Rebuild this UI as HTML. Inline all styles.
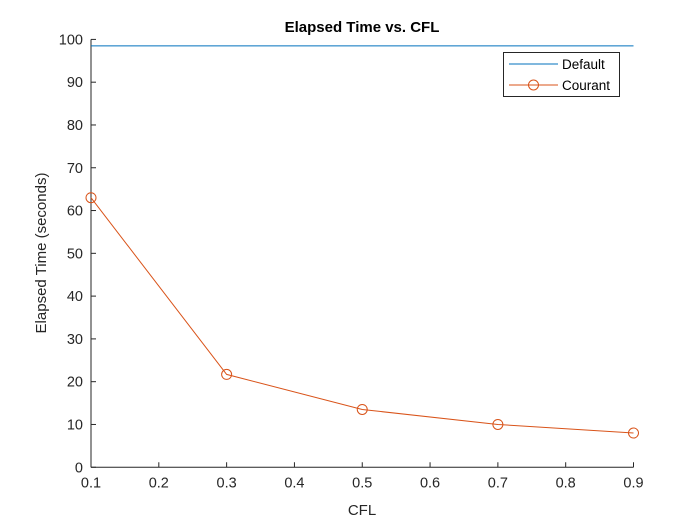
<!DOCTYPE html>
<html><head><meta charset="utf-8"><style>
html,body{margin:0;padding:0;background:#fff;}
svg{display:block;font-family:"Liberation Sans",Arial,sans-serif;}
</style></head><body>
<svg id="chart" width="700" height="525" viewBox="0 0 700 525">
<rect width="700" height="525" fill="#fff"/>
<g id="grid"></g>
<text x="362" y="32" text-anchor="middle" font-size="15" font-weight="bold" fill="#000">Elapsed Time vs. CFL</text>
<text x="362" y="515" text-anchor="middle" font-size="15" fill="#262626">CFL</text>
<text transform="translate(46,253) rotate(-90)" text-anchor="middle" font-size="15" fill="#262626">Elapsed Time (seconds)</text>
<g id="axes"></g>
<g id="marks"></g>
<g>
<rect x="503.5" y="52.5" width="116" height="44" fill="#fff" stroke="#262626" stroke-width="1"/>
<line x1="509" y1="64" x2="558" y2="64" stroke="#0072BD" stroke-width="1"/>
<text x="562" y="69" font-size="13.5" fill="#000">Default</text>
<line x1="509" y1="85" x2="558" y2="85" stroke="#D95319" stroke-width="1"/>
<circle cx="533.5" cy="85" r="5" fill="none" stroke="#D95319"/>
<text x="562" y="90" font-size="13.5" fill="#000">Courant</text>
</g>
</svg>
<script>
const xTicks=[0.1,0.2,0.3,0.4,0.5,0.6,0.7,0.8,0.9];
const yTicks=[0,10,20,30,40,50,60,70,80,90,100];
const cfl=[0.1,0.3,0.5,0.7,0.9];
const courant=[63.0,21.7,13.5,10.0,8.0];
const defaultTime=[98.5,98.5];
const defaultX=[0.1,0.9];

const L=91,R=633.5,T=39.4,B=467.25;
const NS='http://www.w3.org/2000/svg';
function sx(v){return L+(v-0.1)/(0.9-0.1)*(R-L);}
function sy(v){return B-(v-0)/(100-0)*(B-T);}
function mk(tag,attrs,parent){const e=document.createElementNS(NS,tag);for(const k in attrs)e.setAttribute(k,attrs[k]);parent.appendChild(e);return e;}
const axes=document.getElementById('axes'),marks=document.getElementById('marks');
let e=mk('line',{x1:L,y1:B,x2:R,y2:B,stroke:'#262626','stroke-width':1},axes);


e=mk('line',{x1:L,y1:T,x2:L,y2:B,stroke:'#262626','stroke-width':1},axes);


xTicks.forEach(v=>{
  const x=sx(v);
  let t=mk('line',{x1:x,y1:B,x2:x,y2:B-5,stroke:'#262626'},axes);
  
  
  let l=mk('text',{x:x,y:B+20,'text-anchor':'middle','font-size':14.5,fill:'#262626'},axes);
  l.textContent=v.toFixed(1);
  
  
});
yTicks.forEach(v=>{
  const y=sy(v);
  let t=mk('line',{x1:L,y1:y,x2:L+5,y2:y,stroke:'#262626'},axes);
  
  
  let l=mk('text',{x:L-8,y:y+5,'text-anchor':'end','font-size':14.5,fill:'#262626'},axes);
  l.textContent=v;
  
  
});
e=mk('polyline',{points:defaultX.map((x,i)=>sx(x)+','+sy(defaultTime[i])).join(' '),fill:'none',stroke:'#0072BD','stroke-width':1},marks);


e=mk('polyline',{points:cfl.map((x,i)=>sx(x)+','+sy(courant[i])).join(' '),fill:'none',stroke:'#D95319','stroke-width':1},marks);


cfl.forEach((x,i)=>{
  const c=mk('circle',{cx:sx(x),cy:sy(courant[i]),r:5,fill:'none',stroke:'#D95319','stroke-width':1},marks);
  
  
});
</script>
</body></html>
